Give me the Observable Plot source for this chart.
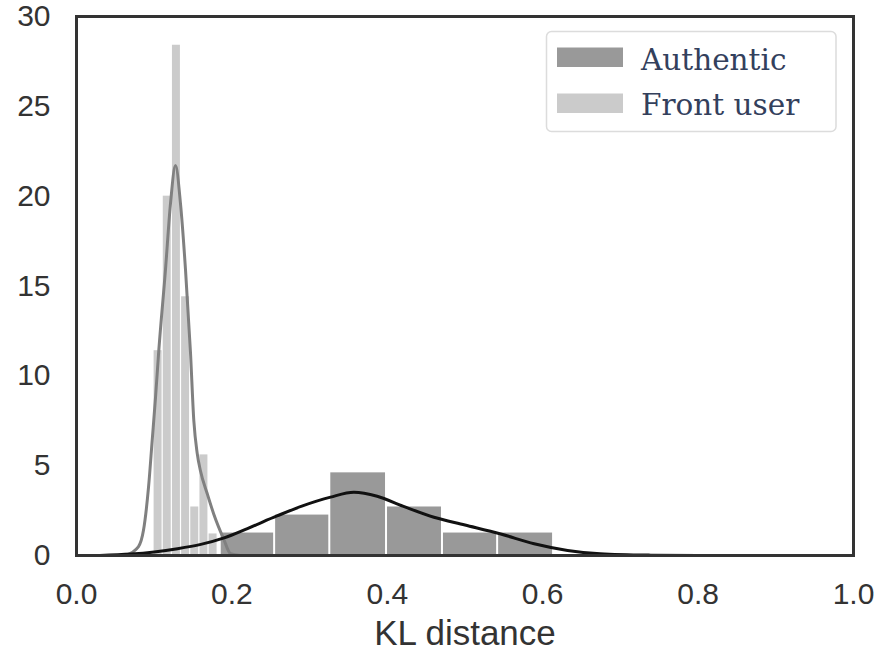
<!DOCTYPE html>
<html>
<head>
<meta charset="utf-8">
<script src="https://cdn.jsdelivr.net/npm/d3@7"></script>
<script src="https://cdn.jsdelivr.net/npm/@observablehq/plot@0.6"></script>
<style>
  html, body { margin: 0; padding: 0; background: white; }
  #wrap { position: relative; width: 882px; height: 670px; }
  #legend { position: absolute; left: 0; top: 0; pointer-events: none; }
</style>
</head>
<body>
<div id="wrap"></div>
<script>
// ---- data ----
const seriesNames = ["Authentic", "Front user"];

// histogram bin edges and densities
const authEdges = [0.185, 0.255, 0.326, 0.399, 0.471, 0.542, 0.614];
const authDensity = [1.25, 2.25, 4.6, 2.7, 1.25, 1.25];

const frontEdges = [0.0991, 0.1109, 0.1227, 0.1345, 0.1463, 0.1581, 0.1699, 0.1817];
const frontDensity = [11.4, 20.0, 28.4, 14.4, 2.7, 5.6, 1.2];

// KDE curves
const frontKdeX = [0.063, 0.0798, 0.0862, 0.0927, 0.0974, 0.1017, 0.1059, 0.1145, 0.121, 0.1274, 0.1338, 0.1403, 0.1467, 0.151, 0.1553, 0.1596, 0.1682, 0.1767, 0.1896, 0.1982, 0.211];
const frontKdeY = [0, 0.5, 1.4, 3.8, 6.4, 8.8, 11.4, 15.9, 19.6, 21.7, 19.6, 15.9, 11.3, 7.5, 5.7, 4.7, 3.45, 2.3, 0.9, 0.1, 0];

const authKdeX = [0.03, 0.07, 0.10, 0.13, 0.16, 0.19, 0.22, 0.258, 0.29, 0.327, 0.357, 0.387, 0.42, 0.46, 0.50, 0.546, 0.589, 0.632, 0.674, 0.739, 0.80];
const authKdeY = [0, 0.08, 0.2, 0.38, 0.62, 0.98, 1.5, 2.2, 2.75, 3.25, 3.52, 3.3, 2.75, 2.13, 1.7, 1.2, 0.65, 0.28, 0.1, 0.02, 0];

const xTicks = [0, 0.2, 0.4, 0.6, 0.8, 1.0];
const yTicks = [0, 5, 10, 15, 20, 25, 30];
const xLabel = "KL distance";

// ---- tables built from the arrays ----
const authBins = authDensity.map((d, i) => ({x1: authEdges[i], x2: authEdges[i + 1], y: d}));
const frontBins = frontDensity.map((d, i) => ({x1: frontEdges[i], x2: frontEdges[i + 1], y: d}));
const frontKde = frontKdeX.map((x, i) => ({x, y: frontKdeY[i]}));
const authKde = authKdeX.map((x, i) => ({x, y: authKdeY[i]}));

const W = 882, H = 670;
const chart = Plot.plot({
  width: W,
  height: H,
  marginLeft: 76,
  marginRight: 29,
  marginTop: 16,
  marginBottom: 115,
  style: {fontFamily: "'Liberation Sans', Arial, sans-serif", fontSize: "30px", color: "#333", background: "white", overflow: "visible"},
  x: {domain: [0, 1]},
  y: {domain: [0, 30]},
  marks: [
    Plot.rectY(authBins, {x1: "x1", x2: "x2", y: "y", fill: "#999999", insetLeft: 1, insetRight: 1}),
    Plot.rectY(frontBins, {x1: "x1", x2: "x2", y: "y", fill: "#cbcbcb", insetLeft: 0.6, insetRight: 0.6}),
    Plot.line(frontKde, {x: "x", y: "y", stroke: "#808080", strokeWidth: 3, curve: "monotone-x"}),
    Plot.line(authKde, {x: "x", y: "y", stroke: "#111", strokeWidth: 3, curve: "monotone-x"}),
    Plot.frame({stroke: "#333", strokeWidth: 3}),
    Plot.axisX(xTicks, {tickSize: 0, tickPadding: 27, tickFormat: d3.format(".1f"), label: null}),
    Plot.axisY(yTicks, {tickSize: 0, tickPadding: 26, label: null}),
    Plot.text([xLabel], {frameAnchor: "bottom", dy: 89, fontSize: 35, fill: "#333"})
  ]
});

const wrap = document.getElementById("wrap");
wrap.appendChild(chart);

// ---- legend overlay ----
const legendColors = ["#999999", "#cbcbcb"];
const lg = d3.select(wrap).append("svg")
  .attr("id", "legend").attr("width", W).attr("height", H);
lg.append("rect")
  .attr("x", 546.5).attr("y", 31.5).attr("width", 289.5).attr("height", 100)
  .attr("rx", 5).attr("fill", "white").attr("fill-opacity", 0.85)
  .attr("stroke", "#dcdcdc").attr("stroke-width", 1.5);
seriesNames.forEach((name, i) => {
  const y0 = 47.5 + i * 46;
  lg.append("rect").attr("x", 557).attr("y", y0).attr("width", 66).attr("height", 19.5)
    .attr("fill", legendColors[i]);
  lg.append("text").attr("x", 641).attr("y", 70 + i * 44.5)
    .attr("font-family", "'DejaVu Serif', serif").attr("font-size", 29.5)
    .attr("fill", "#33405c").text(name);
});
</script>
</body>
</html>
